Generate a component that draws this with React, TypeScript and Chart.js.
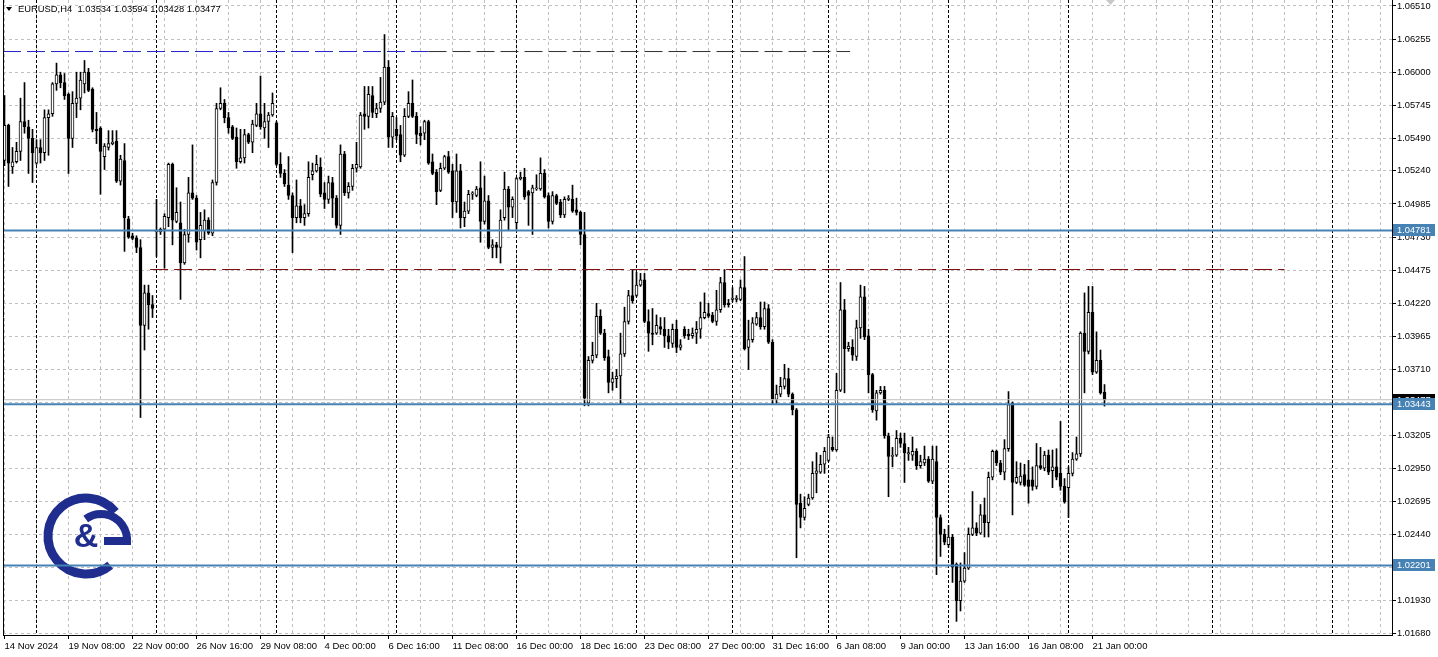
import React, { useEffect, useRef } from 'react';
import { Chart, registerables } from 'chart.js';

Chart.register(...registerables);

// ---------------- DATA ----------------
const OPEN = [
  1.0532, 1.0559, 1.0527, 1.0531, 1.0539, 1.0562, 1.0558, 1.0549, 1.0530, 1.0542,
  1.0538, 1.0565, 1.0568, 1.0591, 1.0598, 1.0592, 1.0583, 1.0549, 1.0576, 1.0580,
  1.0591, 1.0600, 1.0587, 1.0556, 1.0557, 1.0535, 1.0542, 1.0545, 1.0547, 1.0516,
  1.0532, 1.0487, 1.0474, 1.0472, 1.0465, 1.0405, 1.0430, 1.0421, 1.0477, 1.0477,
  1.0479, 1.0488, 1.0529, 1.0485, 1.0484, 1.0453, 1.0475, 1.0507, 1.0503, 1.0471,
  1.0478, 1.0486, 1.0476, 1.0515, 1.0572, 1.0576, 1.0565, 1.0558, 1.0550, 1.0531,
  1.0534, 1.0552, 1.0546, 1.0559, 1.0568, 1.0557, 1.0562, 1.0567, 1.0561, 1.0529,
  1.0522, 1.0513, 1.0505, 1.0488, 1.0497, 1.0488, 1.0491, 1.0521, 1.0524, 1.0527,
  1.0507, 1.0502, 1.0515, 1.0503, 1.0482, 1.0537, 1.0507, 1.0512, 1.0526, 1.0527,
  1.0568, 1.0566, 1.0582, 1.0568, 1.0572, 1.0577, 1.0604, 1.0550, 1.0556, 1.0552,
  1.0536, 1.0566, 1.0576, 1.0566, 1.0553, 1.0553, 1.0562, 1.0531, 1.0523, 1.0509,
  1.0526, 1.0535, 1.0524, 1.0500, 1.0524, 1.0488, 1.0493, 1.0506, 1.0505, 1.0511,
  1.0485, 1.0501, 1.0465, 1.0467, 1.0465, 1.0488, 1.0510, 1.0496, 1.0484, 1.0518,
  1.0519, 1.0508, 1.0507, 1.0510, 1.0510, 1.0522, 1.0505, 1.0485, 1.0505, 1.0500,
  1.0490, 1.0502, 1.0502, 1.0494, 1.0492, 1.0475, 1.0345, 1.0378, 1.0382, 1.0412,
  1.0399, 1.0381, 1.0361, 1.0364, 1.0366, 1.0383, 1.0408, 1.0428, 1.0428, 1.0436,
  1.0440, 1.0408, 1.0399, 1.0399, 1.0404, 1.0402, 1.0397, 1.0391, 1.0402, 1.0388,
  1.0402, 1.0398, 1.0397, 1.0399, 1.0402, 1.0411, 1.0414, 1.0413, 1.0408, 1.0417,
  1.0438, 1.0422, 1.0425, 1.0425, 1.0425, 1.0434, 1.0388, 1.0394, 1.0406, 1.0411,
  1.0404, 1.0418, 1.0392, 1.0348, 1.0352, 1.0358, 1.0364, 1.0352, 1.0340, 1.0268,
  1.0257, 1.0267, 1.0272, 1.0291, 1.0292, 1.0298, 1.0301, 1.0311, 1.0309, 1.0355,
  1.0417, 1.0387, 1.0388, 1.0381, 1.0403, 1.0427, 1.0397, 1.0367, 1.0339, 1.0353,
  1.0355, 1.0320, 1.0304, 1.0305, 1.0318, 1.0314, 1.0306, 1.0305, 1.0308, 1.0297,
  1.0299, 1.0302, 1.0285, 1.0300, 1.0257, 1.0244, 1.0236, 1.0242, 1.0221, 1.0193,
  1.0208, 1.0218, 1.0244, 1.0249, 1.0245, 1.0259, 1.0253, 1.0288, 1.0308, 1.0299,
  1.0292, 1.0310, 1.0345, 1.0284, 1.0284, 1.0290, 1.0286, 1.0286, 1.0281, 1.0297,
  1.0295, 1.0305, 1.0293, 1.0296, 1.0291, 1.0281, 1.0280, 1.0291, 1.0302, 1.0306,
  1.0399, 1.0385, 1.0415, 1.0369, 1.0378, 1.03534,
];
const HIGH = [
  1.0582, 1.0560, 1.0542, 1.0546, 1.0580, 1.0592, 1.0563, 1.0556, 1.0548, 1.0548,
  1.0571, 1.0571, 1.0592, 1.0607, 1.0600, 1.0599, 1.0584, 1.0585, 1.0600, 1.0600,
  1.0609, 1.0603, 1.0588, 1.0569, 1.0558, 1.0545, 1.0555, 1.0555, 1.0555, 1.0536,
  1.0545, 1.0489, 1.0476, 1.0474, 1.0471, 1.0436, 1.0436, 1.0428, 1.0502, 1.0480,
  1.0491, 1.0530, 1.0530, 1.0511, 1.0500, 1.0479, 1.0519, 1.0544, 1.0505, 1.0492,
  1.0494, 1.0488, 1.0517, 1.0576, 1.0588, 1.0579, 1.0569, 1.0559, 1.0557, 1.0556,
  1.0556, 1.0553, 1.0563, 1.0576, 1.0597, 1.0576, 1.0569, 1.0584, 1.0562, 1.0538,
  1.0525, 1.0535, 1.0507, 1.0517, 1.0502, 1.0498, 1.0531, 1.0530, 1.0536, 1.0534,
  1.0515, 1.0520, 1.0519, 1.0505, 1.0544, 1.0539, 1.0515, 1.0529, 1.0546, 1.0569,
  1.0589, 1.0589, 1.0589, 1.0576, 1.0596, 1.0629, 1.0609, 1.0569, 1.0565, 1.0559,
  1.0572, 1.0585, 1.0594, 1.0569, 1.0558, 1.0563, 1.0563, 1.0537, 1.0525, 1.0530,
  1.0536, 1.0539, 1.0529, 1.0537, 1.0529, 1.0500, 1.0509, 1.0508, 1.0512, 1.0531,
  1.0520, 1.0505, 1.0471, 1.0469, 1.0494, 1.0523, 1.0512, 1.0504, 1.0519, 1.0523,
  1.0526, 1.0509, 1.0513, 1.0521, 1.0534, 1.0525, 1.0507, 1.0508, 1.0506, 1.0502,
  1.0504, 1.0505, 1.0513, 1.0503, 1.0493, 1.0492, 1.0381, 1.0392, 1.0422, 1.0417,
  1.0402, 1.0386, 1.0369, 1.0371, 1.0399, 1.0419, 1.0432, 1.0448, 1.0446, 1.0445,
  1.0445, 1.0417, 1.0418, 1.0413, 1.0411, 1.0411, 1.0402, 1.0406, 1.0409, 1.0394,
  1.0404, 1.0402, 1.0403, 1.0408, 1.0423, 1.0430, 1.0422, 1.0415, 1.0432, 1.0442,
  1.0448, 1.0425, 1.0434, 1.0428, 1.0440, 1.0458, 1.0409, 1.0411, 1.0415, 1.0423,
  1.0423, 1.0421, 1.0394, 1.0359, 1.0365, 1.0375, 1.0372, 1.0353, 1.0341, 1.0275,
  1.0273, 1.0275, 1.0300, 1.0307, 1.0305, 1.0311, 1.0321, 1.0319, 1.0368, 1.0438,
  1.0425, 1.0392, 1.0394, 1.0409, 1.0436, 1.0435, 1.0402, 1.0368, 1.0355, 1.0358,
  1.0358, 1.0322, 1.0311, 1.0324, 1.0322, 1.0322, 1.0311, 1.0319, 1.0310, 1.0305,
  1.0312, 1.0304, 1.0312, 1.0312, 1.0259, 1.0248, 1.0251, 1.0244, 1.0222, 1.0222,
  1.0230, 1.0249, 1.0277, 1.0253, 1.0267, 1.0272, 1.0292, 1.0309, 1.0309, 1.0301,
  1.0317, 1.0354, 1.0346, 1.0300, 1.0299, 1.0298, 1.0301, 1.0296, 1.0314, 1.0311,
  1.0308, 1.0309, 1.0309, 1.0310, 1.0331, 1.0287, 1.0296, 1.0307, 1.0319, 1.0400,
  1.0430, 1.0435, 1.0435, 1.0400, 1.0386, 1.03594,
];
const LOW = [
  1.0528, 1.0512, 1.0522, 1.0530, 1.0532, 1.0553, 1.0522, 1.0515, 1.0529, 1.0530,
  1.0532, 1.0536, 1.0566, 1.0586, 1.0588, 1.0579, 1.0522, 1.0542, 1.0565, 1.0571,
  1.0584, 1.0585, 1.0554, 1.0545, 1.0506, 1.0525, 1.0540, 1.0544, 1.0515, 1.0513,
  1.0462, 1.0472, 1.0471, 1.0461, 1.0334, 1.0386, 1.0402, 1.0411, 1.0458, 1.0475,
  1.0449, 1.0481, 1.0467, 1.0484, 1.0425, 1.0452, 1.0469, 1.0502, 1.0463, 1.0457,
  1.0471, 1.0475, 1.0474, 1.0513, 1.0571, 1.0561, 1.0553, 1.0548, 1.0526, 1.0530,
  1.0530, 1.0545, 1.0538, 1.0558, 1.0556, 1.0549, 1.0542, 1.0566, 1.0528, 1.0519,
  1.0512, 1.0502, 1.0461, 1.0484, 1.0484, 1.0482, 1.0489, 1.0517, 1.0523, 1.0504,
  1.0495, 1.0499, 1.0488, 1.0480, 1.0475, 1.0505, 1.0503, 1.0509, 1.0523, 1.0526,
  1.0556, 1.0557, 1.0565, 1.0565, 1.0569, 1.0575, 1.0542, 1.0542, 1.0548, 1.0531,
  1.0535, 1.0565, 1.0565, 1.0545, 1.0544, 1.0548, 1.0529, 1.0521, 1.0498, 1.0508,
  1.0525, 1.0522, 1.0488, 1.0492, 1.0480, 1.0481, 1.0491, 1.0502, 1.0504, 1.0469,
  1.0483, 1.0464, 1.0457, 1.0457, 1.0453, 1.0486, 1.0478, 1.0488, 1.0479, 1.0517,
  1.0502, 1.0482, 1.0475, 1.0509, 1.0509, 1.0503, 1.0480, 1.0483, 1.0498, 1.0488,
  1.0488, 1.0501, 1.0492, 1.0490, 1.0467, 1.0343, 1.0343, 1.0376, 1.0380, 1.0398,
  1.0378, 1.0353, 1.0355, 1.0357, 1.0344, 1.0381, 1.0406, 1.0422, 1.0427, 1.0435,
  1.0407, 1.0385, 1.0390, 1.0398, 1.0398, 1.0388, 1.0387, 1.0388, 1.0384, 1.0386,
  1.0395, 1.0394, 1.0395, 1.0391, 1.0395, 1.0410, 1.0411, 1.0407, 1.0405, 1.0415,
  1.0419, 1.0419, 1.0423, 1.0423, 1.0424, 1.0386, 1.0371, 1.0392, 1.0405, 1.0402,
  1.0402, 1.0391, 1.0344, 1.0345, 1.0350, 1.0356, 1.0350, 1.0336, 1.0226, 1.0249,
  1.0255, 1.0266, 1.0271, 1.0276, 1.0291, 1.0291, 1.0300, 1.0308, 1.0308, 1.0354,
  1.0353, 1.0385, 1.0378, 1.0378, 1.0395, 1.0394, 1.0353, 1.0338, 1.0332, 1.0352,
  1.0318, 1.0273, 1.0296, 1.0304, 1.0311, 1.0284, 1.0301, 1.0301, 1.0294, 1.0295,
  1.0297, 1.0284, 1.0283, 1.0213, 1.0227, 1.0236, 1.0234, 1.0207, 1.0177, 1.0185,
  1.0207, 1.0217, 1.0243, 1.0243, 1.0244, 1.0242, 1.0242, 1.0286, 1.0297, 1.0290,
  1.0286, 1.0308, 1.0259, 1.0283, 1.0282, 1.0281, 1.0268, 1.0278, 1.0279, 1.0294,
  1.0293, 1.0290, 1.0280, 1.0286, 1.0278, 1.0268, 1.0257, 1.0289, 1.0301, 1.0304,
  1.0353, 1.0383, 1.0367, 1.0368, 1.0352, 1.03428,
];
const CLOSE = [
  1.0559, 1.0530, 1.0531, 1.0539, 1.0562, 1.0558, 1.0549, 1.0538, 1.0542, 1.0538,
  1.0565, 1.0568, 1.0591, 1.0598, 1.0592, 1.0582, 1.0549, 1.0576, 1.0580, 1.0594,
  1.0600, 1.0586, 1.0556, 1.0555, 1.0539, 1.0543, 1.0545, 1.0546, 1.0516, 1.0533,
  1.0488, 1.0473, 1.0472, 1.0465, 1.0405, 1.0430, 1.0421, 1.0418, 1.0478, 1.0479,
  1.0489, 1.0529, 1.0486, 1.0492, 1.0453, 1.0475, 1.0507, 1.0503, 1.0469, 1.0482,
  1.0486, 1.0476, 1.0515, 1.0572, 1.0576, 1.0565, 1.0557, 1.0549, 1.0531, 1.0534,
  1.0552, 1.0546, 1.0560, 1.0568, 1.0558, 1.0562, 1.0567, 1.0576, 1.0529, 1.0522,
  1.0514, 1.0505, 1.0488, 1.0497, 1.0488, 1.0491, 1.0519, 1.0524, 1.0529, 1.0506,
  1.0502, 1.0515, 1.0503, 1.0482, 1.0537, 1.0507, 1.0512, 1.0526, 1.0529, 1.0567,
  1.0566, 1.0583, 1.0569, 1.0572, 1.0577, 1.0604, 1.0550, 1.0566, 1.0551, 1.0536,
  1.0566, 1.0576, 1.0566, 1.0552, 1.0551, 1.0562, 1.0530, 1.0522, 1.0508, 1.0526,
  1.0535, 1.0523, 1.0500, 1.0524, 1.0488, 1.0493, 1.0506, 1.0507, 1.0510, 1.0485,
  1.0501, 1.0465, 1.0467, 1.0465, 1.0486, 1.0510, 1.0496, 1.0502, 1.0518, 1.0519,
  1.0504, 1.0505, 1.0511, 1.0511, 1.0522, 1.0504, 1.0485, 1.0505, 1.0499, 1.0490,
  1.0502, 1.0503, 1.0493, 1.0492, 1.0475, 1.0349, 1.0378, 1.0382, 1.0412, 1.0399,
  1.0380, 1.0361, 1.0364, 1.0366, 1.0383, 1.0408, 1.0428, 1.0424, 1.0436, 1.0440,
  1.0408, 1.0399, 1.0398, 1.0405, 1.0402, 1.0397, 1.0392, 1.0402, 1.0388, 1.0390,
  1.0397, 1.0397, 1.0399, 1.0402, 1.0411, 1.0415, 1.0412, 1.0408, 1.0417, 1.0438,
  1.0421, 1.0421, 1.0426, 1.0426, 1.0434, 1.0387, 1.0394, 1.0407, 1.0411, 1.0404,
  1.0418, 1.0392, 1.0348, 1.0352, 1.0358, 1.0364, 1.0352, 1.0340, 1.0267, 1.0257,
  1.0264, 1.0272, 1.0291, 1.0293, 1.0298, 1.0308, 1.0319, 1.0309, 1.0355, 1.0417,
  1.0387, 1.0389, 1.0382, 1.0403, 1.0427, 1.0396, 1.0367, 1.0340, 1.0353, 1.0355,
  1.0320, 1.0304, 1.0305, 1.0318, 1.0314, 1.0307, 1.0307, 1.0308, 1.0297, 1.0300,
  1.0302, 1.0285, 1.0302, 1.0257, 1.0244, 1.0238, 1.0242, 1.0219, 1.0193, 1.0208,
  1.0218, 1.0244, 1.0249, 1.0245, 1.0259, 1.0253, 1.0288, 1.0308, 1.0299, 1.0292,
  1.0310, 1.0344, 1.0284, 1.0288, 1.0289, 1.0282, 1.0281, 1.0281, 1.0297, 1.0295,
  1.0305, 1.0292, 1.0296, 1.0288, 1.0281, 1.0269, 1.0291, 1.0302, 1.0306, 1.0399,
  1.0385, 1.0415, 1.0369, 1.0378, 1.0353, 1.03477,
];

// x-axis labels: bar index -> text
const X_LABEL_INDEX = [0, 16, 32, 48, 64, 80, 96, 112, 128, 144, 160, 176, 192, 208, 224, 240, 256, 272];
const X_LABEL_TEXT = [
  '14 Nov 2024', '19 Nov 08:00', '22 Nov 00:00', '26 Nov 16:00', '29 Nov 08:00', '4 Dec 00:00',
  '6 Dec 16:00', '11 Dec 08:00', '16 Dec 00:00', '18 Dec 16:00', '23 Dec 08:00', '27 Dec 00:00',
  '31 Dec 16:00', '6 Jan 08:00', '9 Jan 00:00', '13 Jan 16:00', '16 Jan 08:00', '21 Jan 00:00',
];
const Y_TICKS = [
  1.06510, 1.06255, 1.06000, 1.05745, 1.05490, 1.05240, 1.04985, 1.04730, 1.04475, 1.04220,
  1.03965, 1.03710, 1.03455, 1.03205, 1.02950, 1.02695, 1.02440, 1.02185, 1.01930, 1.01680,
];
// week separators (bar index of Monday 00:00, incl. future ones)
const SEPARATORS = [8, 38, 68, 98, 128, 158, 182, 206, 236, 266, 302, 332];
// horizontal levels
const LEVELS = [1.04781, 1.03443, 1.02201];
const BID = 1.03477;
const DASH_PRICE = [1.06159, 1.06159, 1.0448];
const DASH_FROM = [-0.375, 106, 36.4];
const DASH_TO = [106, 211.4, 320];
const HEADER = 'EURUSD,H4  1.03534 1.03594 1.03428 1.03477';

// ---------------- STYLE / LAYOUT ----------------
const W = 1438;
const H = 657;
const X_MIN = -0.375;
const X_MAX = 346.875;
const Y_MIN = 1.01665;
const Y_MAX = 1.06556;
const FONT = "'Liberation Sans', Arial, sans-serif";
const DASH_COLORS = ['#2424c8', '#303030', '#7a1010'];
const LEVEL_COLOR = '#4682b4';

function drawLogo(ctx: CanvasRenderingContext2D) {
  ctx.save();
  const c = '#1f2d8f';
  ctx.strokeStyle = c;
  ctx.fillStyle = c;
  ctx.lineCap = 'butt';
  ctx.lineWidth = 9;
  ctx.beginPath();
  ctx.arc(86, 536, 38, 0.28 * Math.PI, 1.78 * Math.PI);
  ctx.stroke();
  ctx.lineWidth = 8;
  ctx.beginPath();
  ctx.arc(101, 540, 26, 1.3 * Math.PI, 0.05 * Math.PI + 2 * Math.PI);
  ctx.stroke();
  ctx.beginPath();
  ctx.moveTo(104, 541);
  ctx.lineTo(131, 541);
  ctx.stroke();
  ctx.font = "bold 34px 'Liberation Sans', Arial";
  ctx.textAlign = 'center';
  ctx.textBaseline = 'middle';
  ctx.fillText('&', 86, 538);
  ctx.restore();
}

export default function App() {
  const ref = useRef<HTMLCanvasElement | null>(null);

  useEffect(() => {
    document.body.style.margin = '0';
    const canvas = ref.current;
    if (!canvas) return;

    const idx = OPEN.map((_, i) => i);
    const wickData = idx.map((i) => ({ x: i, y: [LOW[i], HIGH[i]] }));
    const bodyData = idx.map((i) => ({ x: i, y: [OPEN[i], CLOSE[i]] }));
    const bodyColors = idx.map((i) => (CLOSE[i] >= OPEN[i] ? '#ffffff' : '#000000'));
    const labelMap = new Map<number, string>();
    X_LABEL_INDEX.forEach((v, k) => labelMap.set(v, X_LABEL_TEXT[k]));
    const gridIdx: number[] = [];
    for (let v = 0; v <= 344; v += 8) gridIdx.push(v);

    const lineDatasets: any[] = [];
    LEVELS.forEach((p) => {
      lineDatasets.push({
        type: 'line',
        data: [{ x: X_MIN, y: p }, { x: X_MAX, y: p }],
        borderColor: LEVEL_COLOR,
        borderWidth: 2,
        pointRadius: 0,
        order: 1,
      });
    });
    lineDatasets.push({
      type: 'line',
      data: [{ x: X_MIN, y: BID }, { x: X_MAX, y: BID }],
      borderColor: '#c0c0c0',
      borderWidth: 1,
      pointRadius: 0,
      order: 1,
    });
    DASH_PRICE.forEach((p, k) => {
      lineDatasets.push({
        type: 'line',
        data: [{ x: DASH_FROM[k], y: p }, { x: DASH_TO[k], y: p }],
        borderColor: DASH_COLORS[k],
        borderWidth: 1,
        borderDash: [18, 6],
        pointRadius: 0,
        order: 1,
      });
    });

    const overlay = {
      id: 'mtOverlay',
      beforeDatasetsDraw(chart: any) {
        const { ctx, chartArea, scales } = chart;
        ctx.save();
        ctx.strokeStyle = '#000';
        ctx.lineWidth = 1;
        ctx.setLineDash([3, 2]);
        SEPARATORS.forEach((s) => {
          const x = Math.round(scales.x.getPixelForValue(s) - 0.5) + 0.5;
          ctx.beginPath();
          ctx.moveTo(x, chartArea.top);
          ctx.lineTo(x, chartArea.bottom);
          ctx.stroke();
        });
        ctx.restore();
        drawLogo(ctx);
      },
      afterDraw(chart: any) {
        const { ctx, chartArea, scales } = chart;
        ctx.save();
        ctx.strokeStyle = '#000';
        ctx.lineWidth = 1;
        ctx.beginPath();
        ctx.moveTo(3.5, chartArea.top);
        ctx.lineTo(3.5, chartArea.bottom);
        ctx.stroke();
        // header
        ctx.fillStyle = '#000';
        ctx.beginPath();
        ctx.moveTo(6, 7);
        ctx.lineTo(12, 7);
        ctx.lineTo(9, 11);
        ctx.closePath();
        ctx.fill();
        ctx.font = `9.4px ${FONT}`;
        ctx.textBaseline = 'middle';
        ctx.textAlign = 'left';
        ctx.fillText(HEADER, 18, 9.5);
        // chart shift marker
        ctx.fillStyle = '#c8c8c8';
        ctx.beginPath();
        ctx.moveTo(1106, 0);
        ctx.lineTo(1115, 0);
        ctx.lineTo(1110.5, 5);
        ctx.closePath();
        ctx.fill();
        // price tags on the right axis
        const tag = (p: number, bg: string) => {
          const y = Math.round(scales.y.getPixelForValue(p));
          ctx.fillStyle = bg;
          ctx.fillRect(1393, y - 6, 42, 12);
          ctx.fillStyle = '#fff';
          ctx.font = `9.3px ${FONT}`;
          ctx.textBaseline = 'middle';
          ctx.fillText(p.toFixed(5), 1397, y + 0.5);
        };
        tag(BID, '#000000');
        LEVELS.forEach((p) => tag(p, LEVEL_COLOR));
        ctx.restore();
      },
    };

    const chart = new Chart(canvas, {
      type: 'bar',
      data: {
        datasets: [
          {
            type: 'bar',
            data: wickData as any,
            backgroundColor: '#000',
            barThickness: 1,
            minBarLength: 1,
            grouped: false,
            order: 3,
          } as any,
          {
            type: 'bar',
            data: bodyData as any,
            backgroundColor: bodyColors,
            borderColor: '#000',
            borderWidth: 1,
            borderSkipped: false,
            barThickness: 3,
            minBarLength: 1,
            grouped: false,
            order: 2,
          } as any,
          ...lineDatasets,
        ],
      },
      options: {
        animation: false,
        responsive: false,
        events: [],
        layout: { padding: { left: 3, top: 0, right: 0, bottom: 0 } },
        plugins: { legend: { display: false }, tooltip: { enabled: false } },
        scales: {
          x: {
            type: 'linear',
            min: X_MIN,
            max: X_MAX,
            offset: false,
            afterBuildTicks: (s: any) => {
              s.ticks = gridIdx.map((v) => ({ value: v }));
            },
            afterFit: (s: any) => {
              s.height = 22;
              s.paddingLeft = 0;
              s.paddingRight = 0;
            },
            ticks: {
              autoSkip: false,
              maxRotation: 0,
              minRotation: 0,
              align: 'start',
              padding: 2,
              color: '#000',
              font: { family: FONT, size: 9.5 },
              callback: (v: any) => labelMap.get(Number(v)) ?? '',
            },
            grid: {
              offset: false,
              color: '#c0c0c0',
              tickLength: 4,
              tickColor: (c: any) => (c.tick && labelMap.has(c.tick.value) ? '#000' : 'rgba(0,0,0,0)'),
            },
            border: { display: true, color: '#000', width: 1, dash: [3, 3] },
          } as any,
          y: {
            type: 'linear',
            position: 'right',
            min: Y_MIN,
            max: Y_MAX,
            afterBuildTicks: (s: any) => {
              s.ticks = Y_TICKS.map((v) => ({ value: v }));
            },
            afterFit: (s: any) => {
              s.width = 46;
              s.paddingTop = 0;
              s.paddingBottom = 0;
            },
            ticks: {
              autoSkip: false,
              padding: 1,
              color: '#000',
              font: { family: FONT, size: 9.3 },
              callback: (v: any) => Number(v).toFixed(5),
            },
            grid: { color: '#c0c0c0', tickLength: 4, tickColor: '#000' },
            border: { display: true, color: '#000', width: 1, dash: [3, 3] },
          } as any,
        },
      },
      plugins: [overlay],
    } as any);

    return () => chart.destroy();
  }, []);

  return (
    <div style={{ width: W, height: H, background: '#fff' }}>
      <canvas ref={ref} width={W} height={H} style={{ display: 'block' }} />
    </div>
  );
}
